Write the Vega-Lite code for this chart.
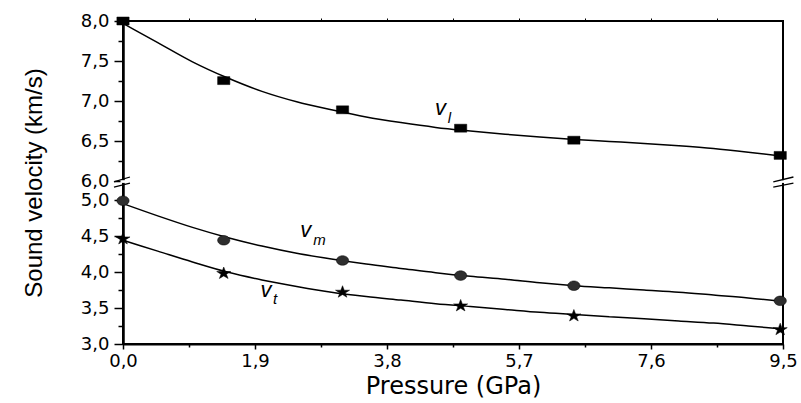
{
  "$schema": "https://vega.github.io/schema/vega-lite/v6.json",
  "width": 660,
  "height": 323,
  "autosize": "none",
  "padding": {"left": 123, "top": 21, "right": 18, "bottom": 59},
  "background": "white",
  "config": {
    "view": {"stroke": "black", "strokeWidth": 2},
    "font": "Liberation Sans",
    "axis": {
      "domainColor": "black",
      "tickColor": "black",
      "labelColor": "black",
      "titleColor": "black",
      "labelFont": "DejaVu Sans",
      "labelFontSize": 18,
      "grid": false
    }
  },
  "datasets": {
    "curves": [
      {"series": "vl", "p": 0, "v": 7.97}, {"series": "vl", "p": 0.5, "v": 7.73}, {"series": "vl", "p": 1.0, "v": 7.49}, {"series": "vl", "p": 1.5, "v": 7.29}, {"series": "vl", "p": 2.0, "v": 7.12}, {"series": "vl", "p": 2.5, "v": 6.99}, {"series": "vl", "p": 3.0, "v": 6.89}, {"series": "vl", "p": 3.5, "v": 6.8}, {"series": "vl", "p": 4.0, "v": 6.73}, {"series": "vl", "p": 4.5, "v": 6.67}, {"series": "vl", "p": 5.0, "v": 6.625}, {"series": "vl", "p": 5.5, "v": 6.585}, {"series": "vl", "p": 6.0, "v": 6.55}, {"series": "vl", "p": 6.5, "v": 6.52}, {"series": "vl", "p": 7.0, "v": 6.495}, {"series": "vl", "p": 7.5, "v": 6.47}, {"series": "vl", "p": 8.0, "v": 6.44}, {"series": "vl", "p": 8.5, "v": 6.405}, {"series": "vl", "p": 9.0, "v": 6.36}, {"series": "vl", "p": 9.5, "v": 6.31},
      {"series": "vm", "p": 0, "v": 4.95}, {"series": "vm", "p": 0.5, "v": 4.78}, {"series": "vm", "p": 1.0, "v": 4.62}, {"series": "vm", "p": 1.5, "v": 4.48}, {"series": "vm", "p": 2.0, "v": 4.36}, {"series": "vm", "p": 2.5, "v": 4.26}, {"series": "vm", "p": 3.0, "v": 4.18}, {"series": "vm", "p": 3.5, "v": 4.11}, {"series": "vm", "p": 4.0, "v": 4.05}, {"series": "vm", "p": 4.5, "v": 3.99}, {"series": "vm", "p": 5.0, "v": 3.94}, {"series": "vm", "p": 5.5, "v": 3.9}, {"series": "vm", "p": 6.0, "v": 3.85}, {"series": "vm", "p": 6.5, "v": 3.81}, {"series": "vm", "p": 7.0, "v": 3.78}, {"series": "vm", "p": 7.5, "v": 3.75}, {"series": "vm", "p": 8.0, "v": 3.72}, {"series": "vm", "p": 8.5, "v": 3.68}, {"series": "vm", "p": 9.0, "v": 3.64}, {"series": "vm", "p": 9.5, "v": 3.59},
      {"series": "vt", "p": 0, "v": 4.44}, {"series": "vt", "p": 0.5, "v": 4.29}, {"series": "vt", "p": 1.0, "v": 4.14}, {"series": "vt", "p": 1.5, "v": 4.0}, {"series": "vt", "p": 2.0, "v": 3.89}, {"series": "vt", "p": 2.5, "v": 3.8}, {"series": "vt", "p": 3.0, "v": 3.72}, {"series": "vt", "p": 3.5, "v": 3.66}, {"series": "vt", "p": 4.0, "v": 3.61}, {"series": "vt", "p": 4.5, "v": 3.56}, {"series": "vt", "p": 5.0, "v": 3.52}, {"series": "vt", "p": 5.5, "v": 3.48}, {"series": "vt", "p": 6.0, "v": 3.44}, {"series": "vt", "p": 6.5, "v": 3.41}, {"series": "vt", "p": 7.0, "v": 3.38}, {"series": "vt", "p": 7.5, "v": 3.35}, {"series": "vt", "p": 8.0, "v": 3.32}, {"series": "vt", "p": 8.5, "v": 3.29}, {"series": "vt", "p": 9.0, "v": 3.25}, {"series": "vt", "p": 9.5, "v": 3.21}
    ],
    "points": [
      {"series": "vl", "p": 0, "v": 8.0}, {"series": "vl", "p": 1.45, "v": 7.255}, {"series": "vl", "p": 3.16, "v": 6.89}, {"series": "vl", "p": 4.86, "v": 6.66}, {"series": "vl", "p": 6.49, "v": 6.51}, {"series": "vl", "p": 9.46, "v": 6.32},
      {"series": "vm", "p": 0, "v": 4.99}, {"series": "vm", "p": 1.45, "v": 4.44}, {"series": "vm", "p": 3.16, "v": 4.16}, {"series": "vm", "p": 4.86, "v": 3.95}, {"series": "vm", "p": 6.49, "v": 3.81}, {"series": "vm", "p": 9.46, "v": 3.6},
      {"series": "vt", "p": 0, "v": 4.46}, {"series": "vt", "p": 1.45, "v": 3.98}, {"series": "vt", "p": 3.16, "v": 3.72}, {"series": "vt", "p": 4.86, "v": 3.53}, {"series": "vt", "p": 6.49, "v": 3.39}, {"series": "vt", "p": 9.46, "v": 3.2}
    ],
    "labels": [
      {"p": 4.57, "v": 6.91, "t": "v"},
      {"p": 2.63, "v": 4.58, "t": "v"},
      {"p": 2.06, "v": 3.75, "t": "v"}
    ],
    "subs": [
      {"p": 4.7, "v": 6.79, "t": "l"},
      {"p": 2.83, "v": 4.44, "t": "m"},
      {"p": 2.19, "v": 3.625, "t": "t"}
    ],
    "masks": [
      {"p": 0, "v": 6.01, "v2": 5.9},
      {"p": 9.5, "v": 6.01, "v2": 5.9}
    ],
    "breaks": [
      {"p": -0.13, "p2": 0.1, "v": 5.95, "v2": 6.05},
      {"p": -0.13, "p2": 0.1, "v": 5.68, "v2": 5.89},
      {"p": 9.36, "p2": 9.65, "v": 5.95, "v2": 6.05},
      {"p": 9.36, "p2": 9.65, "v": 5.68, "v2": 5.89}
    ]
  },
  "layer": [
    {
      "data": {"name": "curves"},
      "mark": {"type": "line", "interpolate": "monotone", "color": "black", "strokeWidth": 1.5},
      "encoding": {
        "x": {"field": "p", "type": "quantitative", "scale": {"domain": [0, 9.5], "nice": false, "zero": false},
          "axis": {"orient": "bottom", "values": [0, 1.9, 3.8, 5.7, 7.6, 9.5], "labelExpr": "replace(format(datum.value, '.1f'), '.', ',')", "tickSize": 5, "tickWidth": 1.5, "domainWidth": 2, "labelPadding": 3, "labelFlush": false, "labelOverlap": false, "title": "Pressure (GPa)", "titleFont": "DejaVu Sans", "titleFontSize": 24, "titleFontWeight": "normal", "titlePadding": 4}},
        "y": {"field": "v", "type": "quantitative", "scale": {"domain": [3, 5, 6, 8], "range": [323, 179, 160, 0], "nice": false, "zero": false},
          "axis": {"orient": "left", "values": [3, 3.5, 4, 4.5, 5, 6, 6.5, 7, 7.5, 8], "labelExpr": "replace(format(datum.value, '.1f'), '.', ',')", "tickSize": 9, "tickWidth": 1.5, "domainWidth": 2.5, "labelPadding": 5, "labelOverlap": false, "title": "Sound velocity (km/s)", "titleFont": "Liberation Sans", "titleFontSize": 24, "titleFontWeight": "normal", "titleLimit": 400, "titlePadding": 34}},
        "detail": {"field": "series"}
      }
    },
    {
      "data": {"name": "points"},
      "mark": {"type": "point", "filled": true, "size": 150, "opacity": 1, "stroke": "black", "strokeWidth": 0.5},
      "encoding": {
        "x": {"field": "p", "type": "quantitative", "scale": {"domain": [0, 9.5], "nice": false, "zero": false},
          "axis": {"orient": "bottom", "values": [0.95, 2.85, 4.75, 6.65, 8.55], "labels": false, "domain": false, "tickSize": 3, "tickWidth": 1.5, "title": null}},
        "y": {"field": "v", "type": "quantitative", "scale": {"domain": [3, 5, 6, 8], "range": [323, 179, 160, 0], "nice": false, "zero": false},
          "axis": {"orient": "left", "values": [3.25, 3.75, 4.25, 4.75, 6.25, 6.75, 7.25, 7.75], "labels": false, "domain": false, "tickSize": 5, "tickWidth": 1.5, "title": null}},
        "shape": {"field": "series", "scale": {"domain": ["vl", "vm", "vt"], "range": ["M-1,-0.65H1V0.65H-1Z", "M-1,0A1,0.78 0 1,1 1,0A1,0.78 0 1,1 -1,0Z", "M0,-1.05L0.28,-0.32L1.15,-0.32L0.44,0.13L0.71,0.83L0,0.4L-0.71,0.83L-0.44,0.13L-1.15,-0.32L-0.28,-0.32Z"]}, "legend": null},
        "fill": {"field": "series", "scale": {"domain": ["vl", "vm", "vt"], "range": ["#000000", "#2e2e2e", "#000000"]}, "legend": null}
      }
    },
    {
      "data": {"name": "labels"},
      "mark": {"type": "text", "font": "Liberation Sans", "fontStyle": "italic", "fontSize": 22, "align": "center", "baseline": "middle", "color": "black"},
      "encoding": {
        "x": {"field": "p", "type": "quantitative", "scale": {"domain": [0, 9.5], "nice": false, "zero": false},
          "axis": {"orient": "top", "values": [0.95, 1.9, 2.85, 3.8, 4.75, 5.7, 6.65, 7.6, 8.55], "labels": false, "domain": false, "tickSize": 3, "tickWidth": 1, "title": null}},
        "y": {"field": "v", "type": "quantitative", "scale": {"domain": [3, 5, 6, 8], "range": [323, 179, 160, 0], "nice": false, "zero": false}, "axis": null},
        "text": {"field": "t"}
      }
    },
    {
      "data": {"name": "subs"},
      "mark": {"type": "text", "font": "Liberation Sans", "fontStyle": "italic", "fontSize": 15, "align": "center", "baseline": "middle", "color": "black"},
      "encoding": {
        "x": {"field": "p", "type": "quantitative", "scale": {"domain": [0, 9.5], "nice": false, "zero": false}, "axis": null},
        "y": {"field": "v", "type": "quantitative", "scale": {"domain": [3, 5, 6, 8], "range": [323, 179, 160, 0], "nice": false, "zero": false}, "axis": null},
        "text": {"field": "t"}
      }
    },
    {
      "data": {"name": "masks"},
      "mark": {"type": "rule", "color": "white", "strokeWidth": 5},
      "encoding": {
        "x": {"field": "p", "type": "quantitative", "scale": {"domain": [0, 9.5], "nice": false, "zero": false}, "axis": null},
        "y": {"field": "v", "type": "quantitative", "scale": {"domain": [3, 5, 6, 8], "range": [323, 179, 160, 0], "nice": false, "zero": false}, "axis": null},
        "y2": {"field": "v2"}
      }
    },
    {
      "data": {"name": "breaks"},
      "mark": {"type": "rule", "color": "black", "strokeWidth": 1.3},
      "encoding": {
        "x": {"field": "p", "type": "quantitative", "scale": {"domain": [0, 9.5], "nice": false, "zero": false}, "axis": null},
        "x2": {"field": "p2"},
        "y": {"field": "v", "type": "quantitative", "scale": {"domain": [3, 5, 6, 8], "range": [323, 179, 160, 0], "nice": false, "zero": false}, "axis": null},
        "y2": {"field": "v2"}
      }
    }
  ],
  "resolve": {"axis": {"x": "independent", "y": "independent"}}
}
